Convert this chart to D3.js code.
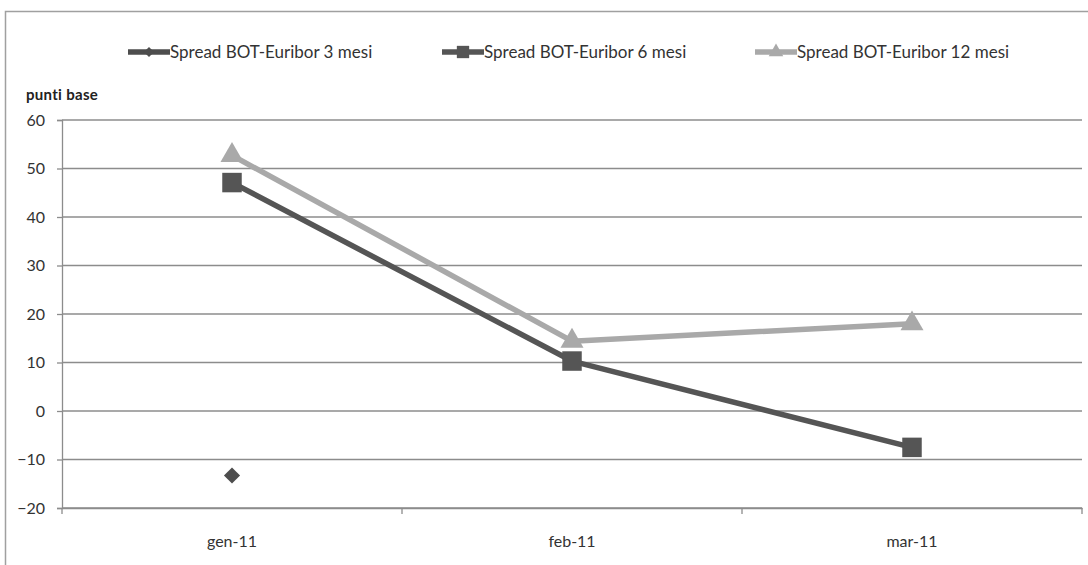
<!DOCTYPE html>
<html><head><meta charset="utf-8">
<script src="https://cdn.jsdelivr.net/npm/d3@7"></script>
<style>
html,body{margin:0;padding:0;background:#fff;}
svg{display:block;}
</style></head>
<body>
<svg id="chart" width="1088" height="565"></svg>
<script>
const categories = ["gen-11", "feb-11", "mar-11"];
const seriesNames = ["Spread BOT-Euribor 3 mesi", "Spread BOT-Euribor 6 mesi", "Spread BOT-Euribor 12 mesi"];
const values3m = [-13.3, null, null];
const values6m = [47.1, 10.3, -7.5];
const values12m = [52.7, 14.4, 18.0];
const yTicks = [-20, -10, 0, 10, 20, 30, 40, 50, 60];
const yTitle = "punti base";

(function () {
const colors = ["#4d4d4d", "#555555", "#a9a9a9"];
const symbols = [d3.symbolSquare, d3.symbolSquare, d3.symbolTriangle];
const symRot = [45, 0, 0];
const symSizes = [130, 380, 230];
const seriesVals = [values3m, values6m, values12m];

const svg = d3.select("#chart");
const font = "Lato, 'Open Sans', sans-serif";

// outer frame
svg.append("path").attr("d", "M5.5,565 V11.5 H1088").attr("fill", "none").attr("stroke", "#a0a0a0").attr("stroke-width", 1.5);

const mLeft = 62, mRight = 1082, mTop = 120, mBottom = 508;
const x = d3.scaleBand().domain(categories).range([mLeft, mRight]);
const y = d3.scaleLinear().domain([-20, 60]).range([mBottom, mTop]);

// gridlines
svg.append("g").selectAll("line").data(yTicks).join("line")
  .attr("x1", mLeft).attr("x2", mRight)
  .attr("y1", d => y(d)).attr("y2", d => y(d))
  .attr("stroke", "#8c8c8c").attr("stroke-width", 1.3);

// y axis
const yAxis = svg.append("g").attr("transform", `translate(${mLeft},0)`)
  .call(d3.axisLeft(y).tickValues(yTicks).tickSize(5).tickPadding(12).tickFormat(d3.format("d")));
yAxis.select(".domain").attr("stroke", "#8c8c8c").attr("stroke-width", 1.3);
yAxis.selectAll(".tick line").attr("stroke", "#8c8c8c").attr("stroke-width", 1.3);
yAxis.selectAll("text").attr("font-family", font).attr("font-size", 16).attr("fill", "#333");

// x axis
const xAxis = svg.append("g").attr("transform", `translate(0,${mBottom})`)
  .call(d3.axisBottom(x).tickSize(0).tickPadding(28));
xAxis.select(".domain").attr("stroke", "#8c8c8c").attr("stroke-width", 1.3);
xAxis.selectAll("text").attr("font-family", font).attr("font-size", 16).attr("fill", "#333");
// boundary ticks
const bounds = categories.map(c => x(c)).concat([mRight]);
svg.append("g").selectAll("line").data(bounds).join("line")
  .attr("x1", d => d).attr("x2", d => d)
  .attr("y1", mBottom).attr("y2", mBottom + 6)
  .attr("stroke", "#8c8c8c").attr("stroke-width", 1.3);

// y title
svg.append("text").attr("x", 26).attr("y", 100).text(yTitle)
  .attr("font-family", font).attr("font-size", 15).attr("font-weight", "bold")
  .attr("letter-spacing", 0.3).attr("fill", "#222");

const cx = c => x(c) + x.bandwidth() / 2;

// series lines & markers
seriesVals.forEach((vals, i) => {
  const pts = categories.map((c, j) => ({c, v: vals[j]}));
  const line = d3.line().defined(d => d.v !== null).x(d => cx(d.c)).y(d => y(d.v));
  svg.append("path").datum(pts).attr("d", line)
    .attr("fill", "none").attr("stroke", colors[i]).attr("stroke-width", 5.5).attr("stroke-linejoin", "round");
  svg.append("g").selectAll("path").data(pts.filter(d => d.v !== null)).join("path")
    .attr("d", d3.symbol().type(symbols[i]).size(symSizes[i]))
    .attr("transform", d => `translate(${cx(d.c)},${y(d.v)}) rotate(${symRot[i]})`)
    .attr("fill", colors[i]);
});

// legend
const legendX = [128, 442, 755];
const lg = svg.append("g");
seriesNames.forEach((name, i) => {
  const g = lg.append("g").attr("transform", `translate(${legendX[i]},52)`);
  g.append("line").attr("x1", 0).attr("x2", 42).attr("y1", 0).attr("y2", 0)
    .attr("stroke", colors[i]).attr("stroke-width", 5.5);
  g.append("path").attr("d", d3.symbol().type(symbols[i]).size(symSizes[i] * 0.4)())
    .attr("transform", `translate(21,0) rotate(${symRot[i]})`).attr("fill", colors[i]);
  g.append("text").attr("x", 42).attr("y", 6).text(name)
    .attr("font-family", font).attr("font-size", 17).attr("fill", "#333");
});
})();
</script>
</body></html>
